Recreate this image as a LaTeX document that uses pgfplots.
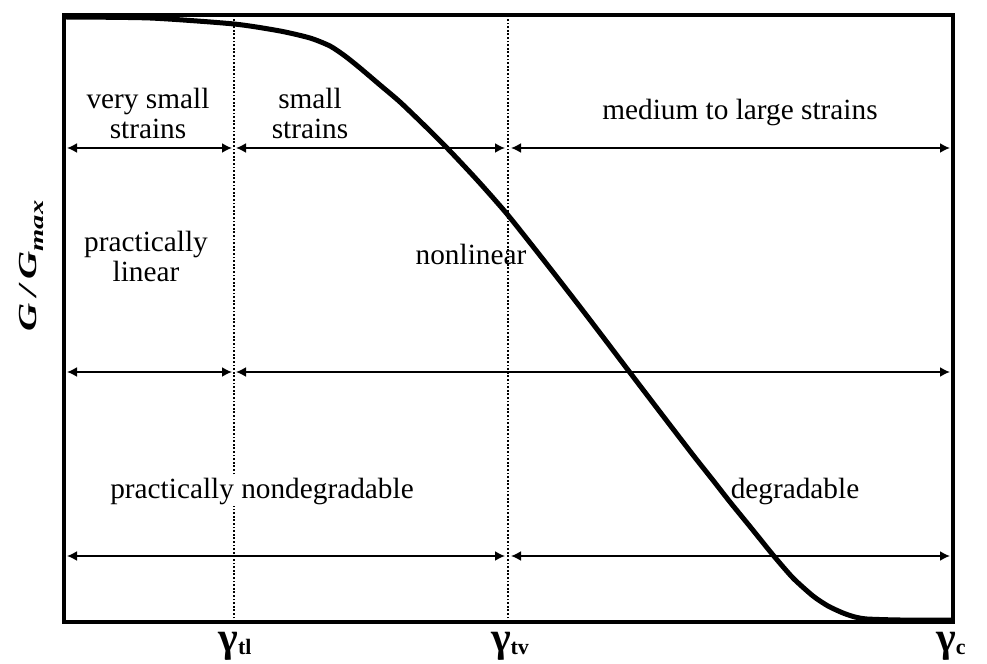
\documentclass[border=0pt]{standalone}
\usepackage{pgfplots}
\pgfplotsset{compat=1.18}
\usepackage{fontspec}
\setmainfont{Liberation Serif}
\usetikzlibrary{arrows.meta}

\tikzset{
  zone/.style={line width=0.9bp, {Latex[length=5bp,width=5bp]}-{Latex[length=5bp,width=5bp]}},
  limit/.style={line width=0.9bp, dash pattern=on 0.9bp off 0.9bp},
  lbl/.style={font=\fontsize{14.65bp}{15bp}\selectfont, align=center, inner sep=1bp},
  strain/.style={anchor=base, yshift=-14.5bp},
}
\newcommand{\strainsym}[1]{\fontsize{21bp}{21bp}\selectfont\bfseries γ\raisebox{-1.5bp}{\fontsize{11bp}{11bp}\selectfont #1}}

\begin{document}
\begin{tikzpicture}
\begin{axis}[
  at={(0,0)}, anchor=south west,
  scale only axis, width=444.5bp, height=303.5bp,
  xmin=64, xmax=953, ymin=0, ymax=607,
  xtick=\empty, ytick=\empty,
  axis line style={line width=1.8bp},
  clip=false,
]
% threshold strains
\draw[limit] (axis cs:234,0) -- (axis cs:234,607);
\draw[limit] (axis cs:508,0) -- (axis cs:508,607);

% region labels
\node[lbl] at (axis cs:148,509) {very small\\strains};
\node[lbl] at (axis cs:310,509) {small\\strains};
\node[lbl] at (axis cs:740,509) {medium to large strains};
\node[lbl] at (axis cs:146,366) {practically\\linear};
\node[lbl] at (axis cs:471,368) {nonlinear};
\node[lbl, fill=white] at (axis cs:262,131) {practically nondegradable};
\node[lbl] at (axis cs:795,131) {degradable};

% range arrows
\draw[zone] (axis cs:67,474) -- (axis cs:232,474);
\draw[zone] (axis cs:236,474) -- (axis cs:505,474);
\draw[zone] (axis cs:511,474) -- (axis cs:950,474);
\draw[zone] (axis cs:67,250) -- (axis cs:232,250);
\draw[zone] (axis cs:236,250) -- (axis cs:950,250);
\draw[zone] (axis cs:67,66) -- (axis cs:505,66);
\draw[zone] (axis cs:511,66) -- (axis cs:950,66);

% modulus reduction curve
\addplot[line width=2.5bp, smooth, tension=0.4] coordinates {
  (64,605) (150,604) (234,598) (280,591) (310,584) (330,576) (345,566)
  (360,554) (380,537) (400,520) (425,496) (449,472) (478,441) (507,408)
  (542,364) (577,319) (603,285) (628,252) (660,210) (693,167) (712,143)
  (730,120) (752,93) (773,67) (793,44) (813,26) (828,16) (843,9)
  (855,5) (867,3) (900,2) (953,2)
};

% axis annotations
\node[strain] at (axis cs:235,0) {\strainsym{tl}};
\node[strain] at (axis cs:510,0) {\strainsym{tv}};
\node[strain] at (axis cs:951,0) {\strainsym{c}};
\node[rotate=90] at (axis cs:31.5,356)
  {\scalebox{1.5}[1]{\fontsize{13bp}{13bp}\selectfont\bfseries\itshape G\,/\,G\raisebox{-3.5bp}{\fontsize{9.5bp}{9.5bp}\selectfont max}}};
\end{axis}
\pgfresetboundingbox
\path[use as bounding box] (-32bp,-21bp) rectangle (461.5bp,311bp);
\end{tikzpicture}
\end{document}
